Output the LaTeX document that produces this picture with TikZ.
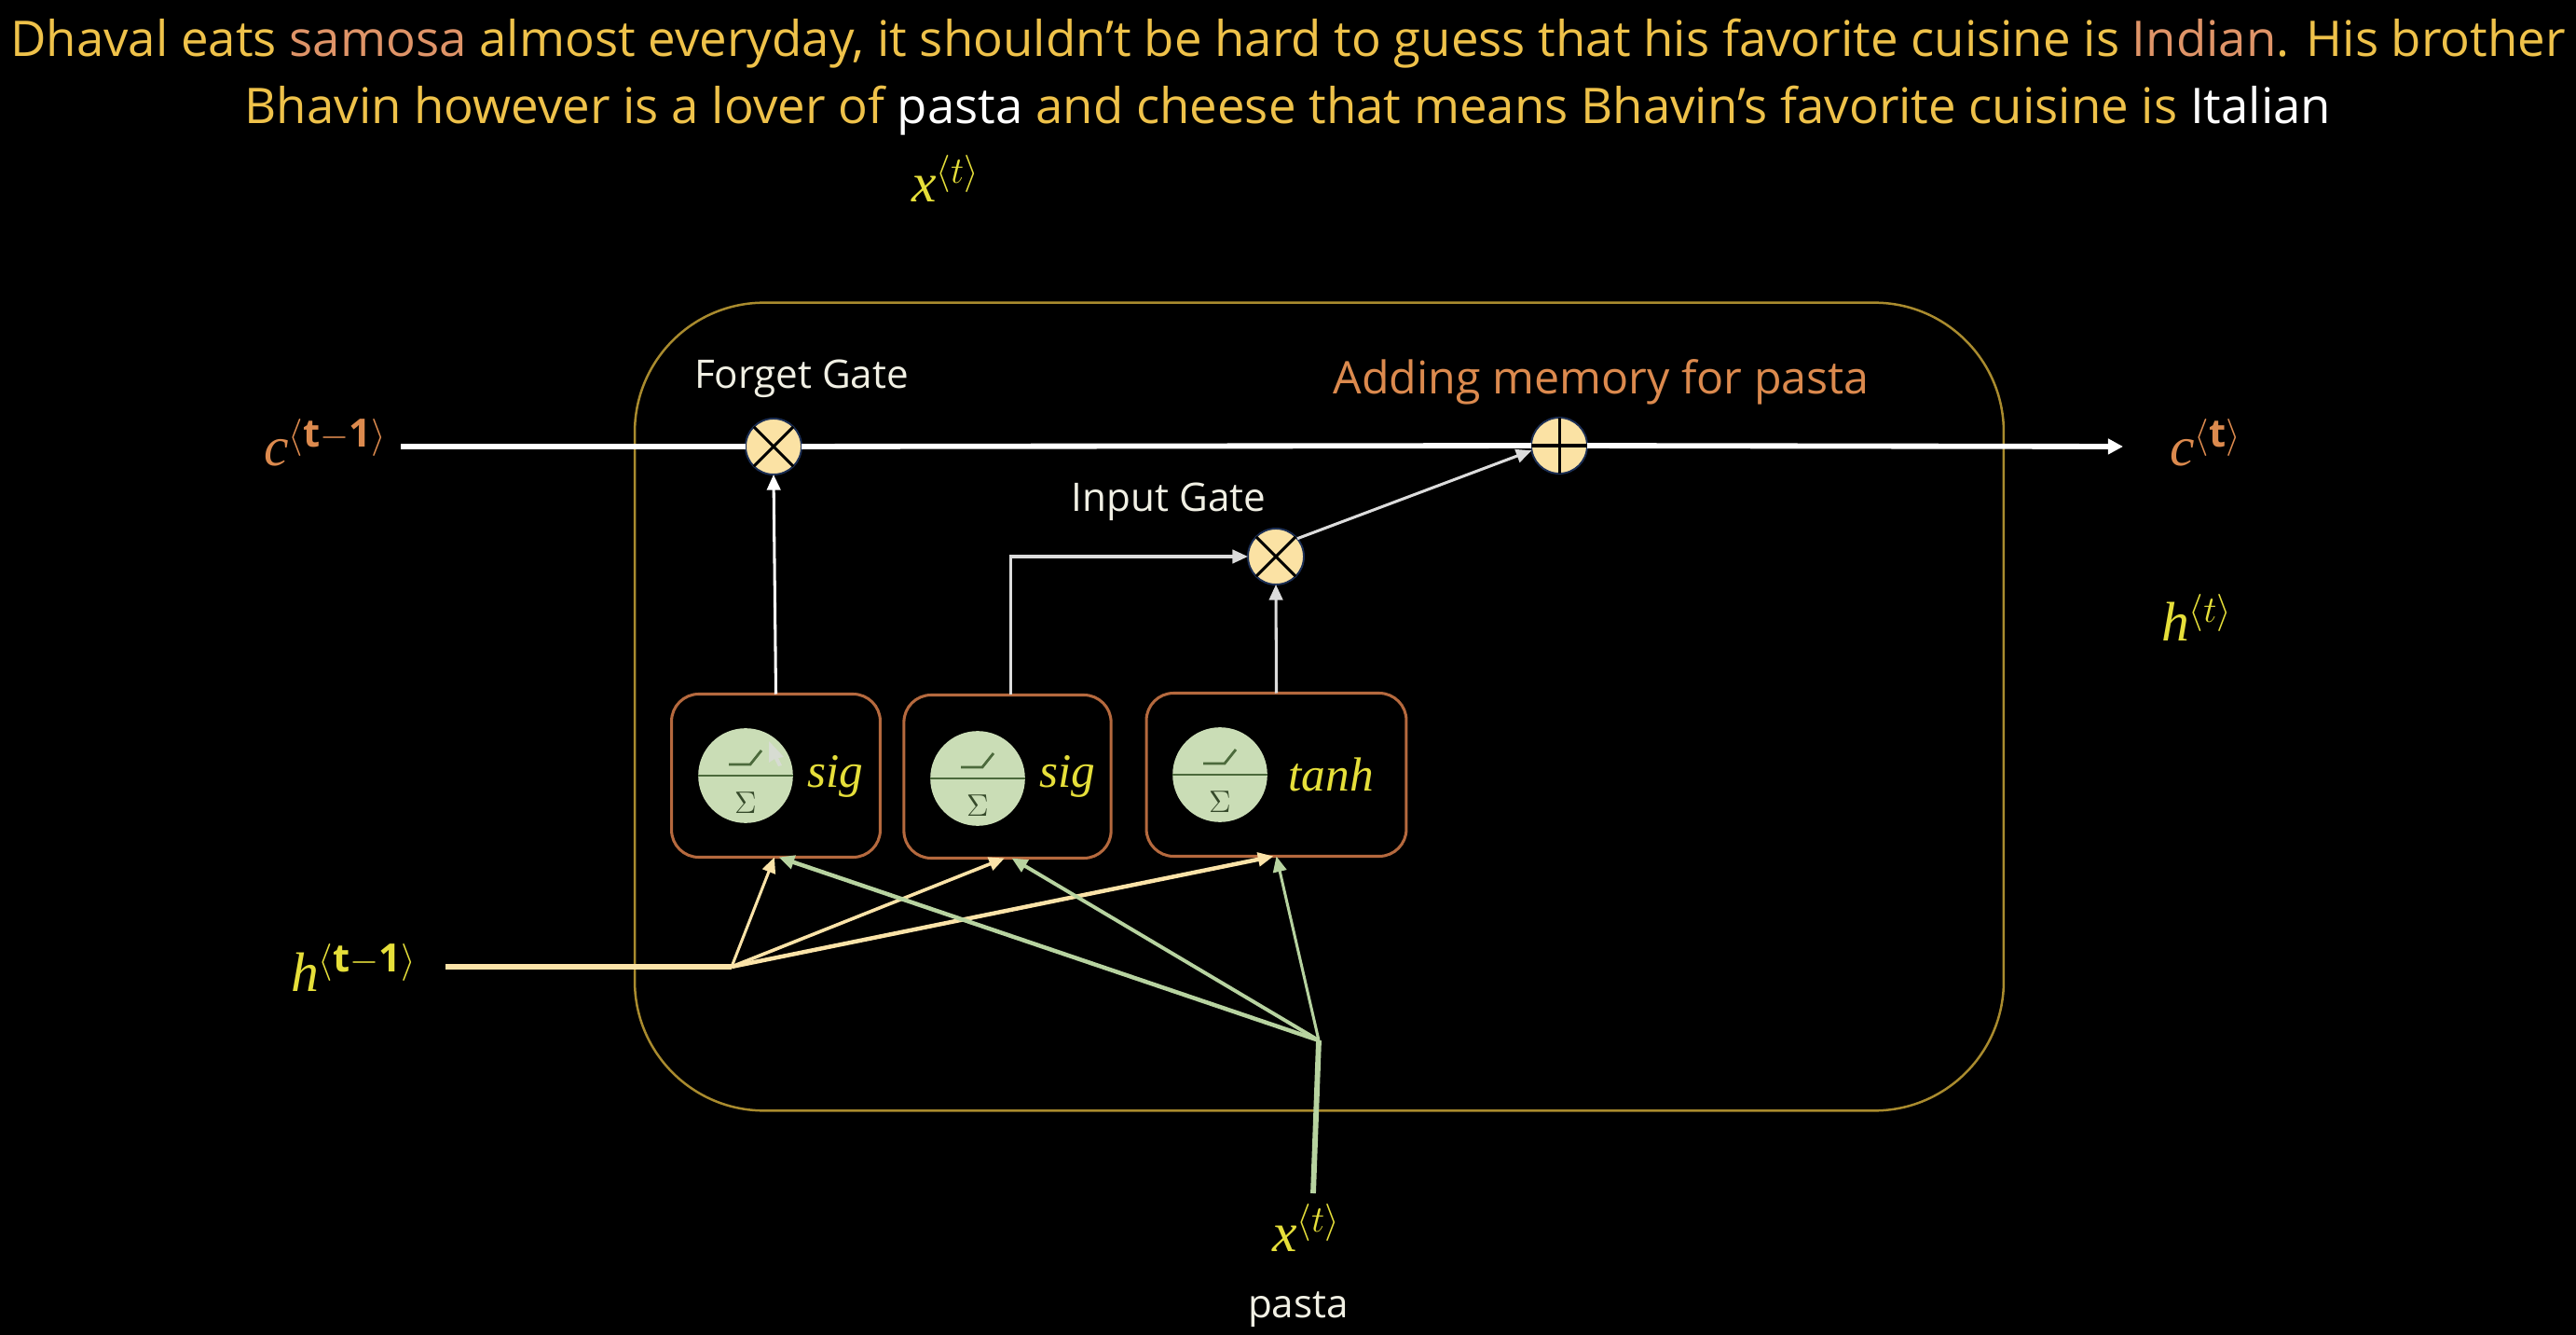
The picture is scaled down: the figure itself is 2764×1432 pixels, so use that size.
\documentclass[tikz,border=0pt]{standalone}
\usepackage{xcolor}
\usepackage{fontspec}
\setmainfont{Open Sans}
\newfontfamily\labelserif{Liberation Serif}
\usetikzlibrary{arrows.meta}

\definecolor{goldtext}{HTML}{EFC24A}
\definecolor{salmontext}{HTML}{DF9468}
\definecolor{orangetext}{HTML}{DC8A4E}
\definecolor{yellowtext}{HTML}{E6DF3A}
\definecolor{whitetext}{HTML}{F1F0E4}
\definecolor{framegold}{HTML}{A98B2E}
\definecolor{boxorange}{HTML}{B5693E}
\definecolor{gatefill}{HTML}{FBE2A4}
\definecolor{gateline}{HTML}{1C2F55}
\definecolor{sigfill}{HTML}{CADDB6}
\definecolor{sigline}{HTML}{4C6A3C}
\definecolor{sigtext}{HTML}{35492A}
\definecolor{hline}{HTML}{FBE3A8}
\definecolor{xline}{HTML}{B7D3A0}
\definecolor{greyline}{HTML}{DCDCDC}

\tikzset{
  tiplarge/.style={-{Triangle[length=5.8pt,width=5.8pt]}},
  tipsmall/.style={-{Triangle[length=6pt,width=5.2pt]}},
  labelnode/.style={anchor=base west,inner sep=0pt,outer sep=0pt,font=\fontsize{21.5}{25}\selectfont\labelserif\itshape},
  gatenode/.style={circle,draw=gateline,fill=gatefill,line width=0.7pt,minimum size=21.6pt,inner sep=0pt,outer sep=0pt},
  gatemark/.style={draw=black,line width=1.1pt},
  boxnode/.style={draw=boxorange,line width=1.1pt,rounded corners=10.5pt,minimum height=63pt,inner sep=0pt,outer sep=0pt},
  signode/.style={circle,fill=sigfill,minimum size=36.6pt,inner sep=0pt,outer sep=0pt},
  sigmark/.style={draw=sigline,line width=1pt},
  sumnode/.style={inner sep=0pt,text=sigtext,font=\fontsize{13}{15}\selectfont},
  funcnode/.style={inner sep=0pt,text=yellowtext,font=\fontsize{18.5}{22}\selectfont\labelserif\itshape},
  mainline/.style={draw=white,line width=2.1pt},
}

\begin{document}
\begin{tikzpicture}[x=0.36pt,y=0.36pt,yscale=-1,xscale=1]
\path[use as bounding box,fill=black] (0,0) rectangle (2764,1432);

% Text Node
\node (story) [anchor=base,inner sep=0pt,align=center,text=goldtext,font=\fontsize{19}{25.92}\selectfont] at (1382,133)
  {Dhaval eats \textcolor{salmontext}{samosa} almost everyday, it shouldn’t be hard to guess that his favorite cuisine is \textcolor{salmontext}{Indian}. His brother\\
   Bhavin however is a lover of \textcolor{white}{pasta} and cheese that means Bhavin’s favorite cuisine is \textcolor{white}{Italian}};
% Text Node
\node (xtop) [labelnode,text=yellowtext] at (978,217) {x$^{\langle t\rangle}$};

%Shape: Rounded Rectangle
\node (cellframe) [draw=framegold,line width=0.9pt,rounded corners=50pt,minimum width=528.8pt,minimum height=312pt,inner sep=0pt] at (1415.5,758) {};

%Shape: Gates
\node (forgetgate) [gatenode] at (830,479) {};
\node (inputgate) [gatenode] at (1369,597) {};
\node (addgate) [gatenode] at (1673,478) {};
\draw [gatemark] (forgetgate.45) -- (forgetgate.225);
\draw [gatemark] (forgetgate.135) -- (forgetgate.315);
\draw [gatemark] (inputgate.45) -- (inputgate.225);
\draw [gatemark] (inputgate.135) -- (inputgate.315);
\draw [gatemark] (addgate.north) -- (addgate.south);
\draw [gatemark] (addgate.west) -- (addgate.east);

%Shape: Boxes
\node (sigbox1) [boxnode,minimum width=80.6pt] at (832.5,832) {};
\node (sigbox2) [boxnode,minimum width=80pt] at (1081,833) {};
\node (tanhbox) [boxnode,minimum width=100.4pt] at (1369.5,831) {};

%Shape: Activation Circles
\node (sigcircle1) [signode] at (800,832) {};
\node (sigcircle2) [signode] at (1049,835) {};
\node (tanhcircle) [signode] at (1309,831) {};
\draw [sigmark] (sigcircle1.west) -- (sigcircle1.east);
\draw [sigmark] (sigcircle2.west) -- (sigcircle2.east);
\draw [sigmark] (tanhcircle.west) -- (tanhcircle.east);
\draw [sigmark] (782,820) -- (805,820) -- (817,805);
\draw [sigmark] (1031,823) -- (1054,823) -- (1066,808);
\draw [sigmark] (1291,819) -- (1314,819) -- (1326,804);
%Shape: Pointer
\path [fill=greyline,opacity=0.75] (825,795) -- (841,812) -- (835,813) -- (839,821) -- (835,822) -- (831,814) -- (825,818) -- cycle;

% Text Node
\node (sigma1) [sumnode] at (800,861) {$\Sigma$};
\node (sigma2) [sumnode] at (1049,864) {$\Sigma$};
\node (sigma3) [sumnode] at (1309,860) {$\Sigma$};
\node (sigtext1) [funcnode] at (896,833) {sig};
\node (sigtext2) [funcnode] at (1145,833) {sig};
\node (tanhtext) [funcnode] at (1428,831) {tanh};

%Straight Lines
\coordinate (cstart) at (430,479);
\coordinate (cend) at (2278,479);
\coordinate (hstart) at (478,1037);
\coordinate (hjoin) at (785,1037);
\coordinate (xstart) at (1409,1280);
\coordinate (xjoin) at (1415,1116);
\draw [mainline] (cstart) -- (forgetgate);
\draw [mainline] (forgetgate) -- (addgate);
\draw [mainline,tiplarge] (addgate) -- (cend);
\draw [draw=white,line width=1.1pt,tipsmall] (sigbox1.north) -- (forgetgate.south);
\draw [draw=greyline,line width=1.1pt,tipsmall] (sigbox2.88) |- (inputgate.west);
\draw [draw=greyline,line width=1.1pt,tipsmall] (tanhbox.north) -- (inputgate.south);
\draw [draw=greyline,line width=1.1pt,tipsmall] (inputgate.40) -- (addgate.190);

\draw [draw=hline,line width=2.1pt] (hstart) -- (hjoin);
\draw [draw=hline,line width=1.1pt,tipsmall] (hjoin) -- (sigbox1.269);
\draw [draw=hline,line width=1.3pt,tipsmall] (hjoin) -- (sigbox2.268);
\draw [draw=hline,line width=1.6pt,tipsmall] (hjoin) -- (tanhbox.268);

\draw [draw=xline,line width=2.1pt] (xstart) -- (xjoin);
\draw [draw=xline,line width=1.6pt,tipsmall] (xjoin) -- (sigbox1.272);
\draw [draw=xline,line width=1.4pt,tipsmall] (xjoin) -- (sigbox2.273);
\draw [draw=xline,line width=1.1pt,tipsmall] (xjoin) -- (tanhbox.270);

% Text Node
\node (forgetlabel) [anchor=base,inner sep=0pt,text=whitetext,font=\fontsize{15.2}{18}\selectfont] at (860,417) {Forget Gate};
\node (inputlabel) [anchor=base,inner sep=0pt,text=whitetext,font=\fontsize{15.2}{18}\selectfont] at (1254,549) {Input Gate};
\node (addlabel) [anchor=base,inner sep=0pt,text=orangetext,font=\fontsize{17.4}{20}\selectfont] at (1718,423) {Adding memory for pasta};
\node (pastalabel) [anchor=base,inner sep=0pt,text=whitetext,font=\fontsize{15.2}{18}\selectfont] at (1393,1413) {pasta};

% Text Node
\node (cin) [labelnode,text=orangetext] at (283,500) {c$^{\langle\mathbf{t-1}\rangle}$};
\node (cout) [labelnode,text=orangetext] at (2328,500) {c$^{\langle\mathbf{t}\rangle}$};
\node (hin) [labelnode,text=yellowtext] at (312,1063) {h$^{\langle\mathbf{t-1}\rangle}$};
\node (hout) [labelnode,text=yellowtext] at (2319,688) {h$^{\langle t\rangle}$};
\node (xin) [labelnode,text=yellowtext] at (1365,1342) {x$^{\langle t\rangle}$};
\end{tikzpicture}
\end{document}
